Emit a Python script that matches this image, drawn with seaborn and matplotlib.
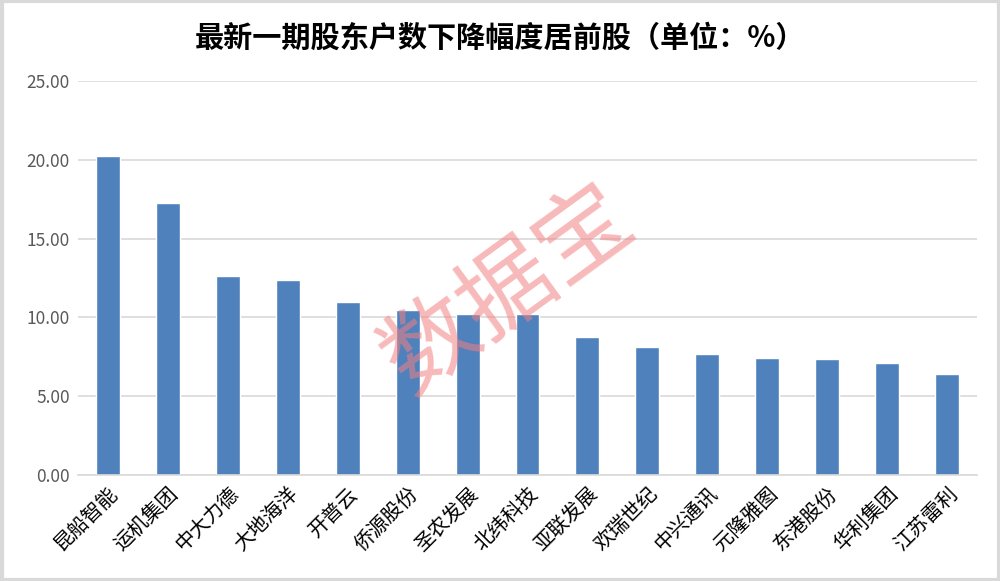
import matplotlib
matplotlib.use('Agg')
import matplotlib.pyplot as plt
import seaborn as sns
import pandas as pd
from matplotlib.patches import Rectangle

# 股票名称 & 股东户数下降幅度(%)
stocks = ['昆船智能', '运机集团', '中大力德', '大地海洋', '开普云', '侨源股份', '圣农发展',
          '北纬科技', '亚联发展', '欢瑞世纪', '中兴通讯', '元隆雅图', '东港股份', '华利集团', '江苏雷利']
drop_pct = [20.25, 17.28, 12.60, 12.40, 10.95, 10.50, 10.20,
            10.20, 8.73, 8.10, 7.66, 7.40, 7.34, 7.09, 6.39]
yticks = [0, 5, 10, 15, 20, 25]

df = pd.DataFrame({'stock': stocks, 'pct': drop_pct})

sns.set_style('white')
plt.rcParams['font.family'] = ['Noto Sans CJK SC', 'DejaVu Sans']

fig = plt.figure(figsize=(10, 5.81), dpi=100)
ax = fig.add_axes([0.078, 0.182, 0.899, 0.679])

sns.barplot(data=df, x='stock', y='pct', color='#4f81bd', saturation=1, width=0.4, ax=ax, zorder=2)

ax.set_ylim(0, 25)
ax.set_yticks(yticks)
ax.set_yticklabels([f'{v:.2f}' for v in yticks], fontsize=12.5, color='#595959')
ax.yaxis.grid(True, color='#d9d9d9', linewidth=1.2, zorder=0)
ax.set_axisbelow(True)
ax.set_xlabel('')
ax.set_ylabel('')
for s in ['top', 'right', 'left']:
    ax.spines[s].set_visible(False)
ax.spines['bottom'].set_color('#d9d9d9')
ax.spines['bottom'].set_linewidth(1.2)
ax.tick_params(axis='both', length=0, pad=6)
ax.set_xlim(-0.5, len(stocks) - 0.5)
plt.setp(ax.get_xticklabels(), rotation=45, ha='right', rotation_mode='anchor', fontsize=14.5, color='black')

fig.text(0.5, 0.935, '最新一期股东户数下降幅度居前股（单位：%）', ha='center', va='center',
         fontsize=21, fontweight='bold', color='black')

# 水印
fig.text(0.508, 0.50, '数据宝', ha='center', va='center', rotation=36, fontsize=68,
         color='#f28080', alpha=0.55, zorder=10)

fig.patches.append(Rectangle((0.0015, 0.0025), 0.997, 0.995, transform=fig.transFigure,
                             fill=False, edgecolor='#d9d9d9', linewidth=3))

fig.savefig('out.png', dpi=100)
